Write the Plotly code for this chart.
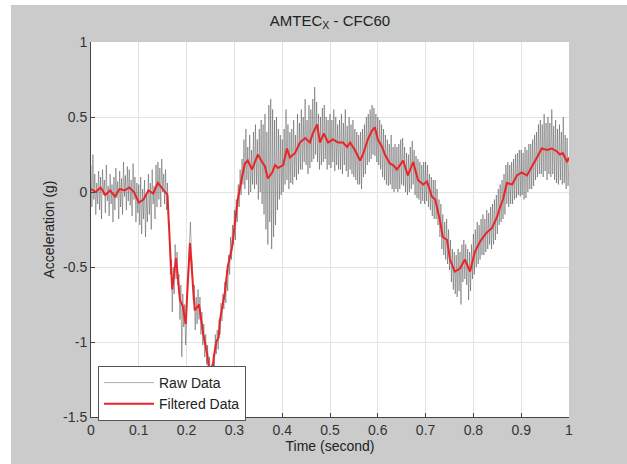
import plotly.graph_objects as go

# ---------------- data ----------------
filt_time = [0.000, 0.010, 0.020, 0.030, 0.040, 0.050, 0.060, 0.070, 0.080, 0.090,
             0.100, 0.110, 0.120, 0.130, 0.140, 0.150, 0.160, 0.165, 0.170, 0.178,
             0.186, 0.192, 0.198, 0.207, 0.217, 0.226, 0.235, 0.243, 0.248, 0.253,
             0.257, 0.262, 0.267, 0.270, 0.280, 0.286, 0.295, 0.301, 0.307, 0.316,
             0.322, 0.328, 0.337, 0.343, 0.349, 0.358, 0.364, 0.370, 0.379, 0.385,
             0.391, 0.402, 0.410, 0.416, 0.427, 0.437, 0.448, 0.458, 0.464, 0.473,
             0.479, 0.487, 0.496, 0.506, 0.517, 0.527, 0.536, 0.542, 0.552, 0.563,
             0.569, 0.579, 0.588, 0.594, 0.600, 0.609, 0.615, 0.625, 0.632, 0.640,
             0.646, 0.653, 0.663, 0.674, 0.684, 0.695, 0.703, 0.713, 0.720, 0.730,
             0.736, 0.745, 0.751, 0.761, 0.772, 0.782, 0.793, 0.803, 0.814, 0.828,
             0.839, 0.849, 0.856, 0.862, 0.870, 0.881, 0.891, 0.901, 0.912, 0.923,
             0.933, 0.943, 0.954, 0.964, 0.975, 0.981, 0.987, 0.996, 1.000]
filt_value = [0.02, 0.00, 0.03, -0.02, 0.01, -0.03, 0.02, 0.01, 0.03, 0.00,
              -0.07, -0.05, 0.01, -0.01, 0.06, 0.02, -0.02, -0.35, -0.65, -0.44,
              -0.72, -0.76, -0.88, -0.34, -0.79, -0.75, -0.95, -1.08, -1.20, -1.22,
              -1.10, -1.00, -0.97, -0.85, -0.67, -0.50, -0.37, -0.21, -0.05, 0.10,
              0.19, 0.21, 0.15, 0.20, 0.25, 0.20, 0.17, 0.09, 0.13, 0.18,
              0.16, 0.18, 0.29, 0.23, 0.26, 0.33, 0.36, 0.33, 0.39, 0.45,
              0.33, 0.39, 0.33, 0.35, 0.33, 0.33, 0.30, 0.33, 0.28, 0.21,
              0.25, 0.35, 0.41, 0.43, 0.35, 0.30, 0.25, 0.19, 0.18, 0.15,
              0.18, 0.21, 0.11, 0.20, 0.08, 0.05, 0.07, -0.03, -0.05, -0.19,
              -0.30, -0.32, -0.45, -0.53, -0.51, -0.45, -0.53, -0.40, -0.33, -0.27,
              -0.24, -0.17, -0.10, -0.05, 0.06, 0.05, 0.11, 0.13, 0.11, 0.17,
              0.23, 0.29, 0.28, 0.29, 0.27, 0.25, 0.26, 0.20, 0.23]

raw_step = 0.002
raw_value = [
    0.18, -0.10, 0.25, -0.05, 0.12, -0.15, 0.06, -0.08, 0.14, -0.12,
    0.10, -0.18, 0.15, -0.02, 0.08, -0.14, 0.18, -0.06, 0.04, -0.16,
    0.12, -0.08, 0.05, -0.20, 0.10, -0.12, 0.16, -0.04, 0.07, -0.18,
    0.14, -0.10, 0.09, -0.15, 0.20, -0.03, 0.11, -0.12, 0.17, -0.06,
    0.15, -0.09, 0.08, -0.16, 0.19, -0.05, 0.10, -0.20, 0.06, -0.14,
    0.05, -0.22, 0.10, -0.28, 0.02, -0.18, 0.08, -0.30, -0.02, -0.20,
    0.12, -0.15, 0.06, -0.25, 0.15, -0.08, 0.04, -0.18, 0.18, -0.10,
    0.20, -0.05, 0.16, -0.10, 0.22, 0.00, 0.12, -0.08, 0.15, -0.12,
    0.06, -0.22, -0.20, -0.55, -0.45, -0.80, -0.50, -0.68, -0.35, -0.58,
    -0.40, -0.62, -0.55, -0.85, -0.62, -1.10, -0.68, -0.90, -0.75, -1.02,
    -0.85, -0.55, -0.50, -0.28, -0.20, -0.40, -0.48, -0.72, -0.62, -0.92,
    -0.70, -0.88, -0.65, -0.85, -0.70, -0.95, -0.80, -1.02, -0.88, -1.10,
    -0.95, -1.15, -1.02, -1.25, -1.10, -1.32, -1.15, -1.30, -1.08, -1.18,
    -0.95, -1.08, -0.92, -1.05, -0.85, -0.95, -0.74, -0.86, -0.68, -0.78,
    -0.60, -0.74, -0.52, -0.66, -0.42, -0.55, -0.30, -0.45, -0.22, -0.35,
    -0.12, -0.32, -0.05, -0.20, 0.05, -0.10, 0.15, -0.02, 0.22, 0.05,
    0.35, 0.02, 0.42, 0.08, 0.30, -0.02, 0.38, 0.00, 0.28, 0.05,
    0.40, 0.02, 0.45, 0.05, 0.35, -0.05, 0.42, 0.00, 0.48, -0.08,
    0.45, -0.15, 0.52, -0.25, 0.40, -0.35, 0.58, -0.20, 0.62, -0.38,
    0.55, -0.30, 0.48, -0.22, 0.50, -0.12, 0.42, -0.05, 0.38, -0.02,
    0.35, 0.00, 0.42, 0.05, 0.55, 0.08, 0.45, 0.02, 0.40, 0.06,
    0.42, 0.05, 0.48, 0.10, 0.38, 0.08, 0.52, 0.12, 0.46, 0.15,
    0.55, 0.15, 0.50, 0.20, 0.62, 0.18, 0.48, 0.12, 0.58, 0.16,
    0.55, 0.20, 0.62, 0.22, 0.70, 0.25, 0.60, 0.20, 0.52, 0.15,
    0.50, 0.18, 0.56, 0.20, 0.58, 0.22, 0.50, 0.15, 0.48, 0.18,
    0.52, 0.16, 0.48, 0.20, 0.55, 0.14, 0.50, 0.18, 0.45, 0.15,
    0.48, 0.15, 0.52, 0.12, 0.46, 0.18, 0.55, 0.14, 0.44, 0.10,
    0.50, 0.15, 0.45, 0.12, 0.48, 0.10, 0.42, 0.08, 0.40, 0.05,
    0.38, 0.05, 0.40, 0.02, 0.42, 0.10, 0.45, 0.12, 0.50, 0.18,
    0.52, 0.20, 0.55, 0.22, 0.58, 0.25, 0.56, 0.24, 0.52, 0.20,
    0.50, 0.18, 0.48, 0.15, 0.45, 0.10, 0.42, 0.08, 0.38, 0.05,
    0.35, 0.04, 0.32, 0.05, 0.38, 0.02, 0.30, 0.00, 0.32, 0.02,
    0.30, 0.00, 0.32, 0.02, 0.35, 0.05, 0.36, 0.04, 0.30, 0.00,
    0.26, -0.02, 0.25, 0.00, 0.30, 0.02, 0.34, 0.05, 0.28, -0.02,
    0.24, -0.04, 0.22, -0.05, 0.20, -0.08, 0.18, -0.06, 0.20, -0.08,
    0.20, -0.06, 0.18, -0.10, 0.12, -0.12, 0.10, -0.16, 0.08, -0.18,
    0.08, -0.18, 0.02, -0.22, -0.05, -0.30, -0.08, -0.38, -0.15, -0.42,
    -0.20, -0.45, -0.18, -0.48, -0.25, -0.52, -0.32, -0.60, -0.38, -0.65,
    -0.40, -0.68, -0.42, -0.70, -0.38, -0.66, -0.40, -0.75, -0.35, -0.60,
    -0.32, -0.58, -0.35, -0.62, -0.38, -0.72, -0.40, -0.66, -0.35, -0.58,
    -0.28, -0.55, -0.25, -0.50, -0.20, -0.48, -0.22, -0.45, -0.18, -0.42,
    -0.15, -0.42, -0.18, -0.40, -0.12, -0.38, -0.14, -0.35, -0.10, -0.38,
    -0.08, -0.35, -0.05, -0.32, -0.02, -0.28, 0.02, -0.22, 0.05, -0.20,
    0.08, -0.18, 0.12, -0.15, 0.18, -0.08, 0.20, -0.10, 0.18, -0.08,
    0.20, -0.08, 0.22, -0.05, 0.25, -0.04, 0.26, -0.02, 0.28, -0.03,
    0.28, -0.02, 0.26, -0.05, 0.30, -0.04, 0.28, 0.00, 0.32, 0.02,
    0.32, 0.02, 0.35, 0.04, 0.38, 0.08, 0.40, 0.10, 0.45, 0.12,
    0.48, 0.12, 0.45, 0.10, 0.52, 0.14, 0.46, 0.08, 0.50, 0.12,
    0.46, 0.10, 0.55, 0.12, 0.44, 0.08, 0.48, 0.06, 0.42, 0.05,
    0.45, 0.08, 0.40, 0.05, 0.50, 0.06, 0.38, 0.02, 0.36, 0.04,
    0.22]
raw_time = [round(i * raw_step, 4) for i in range(len(raw_value))]

x_ticks = [0, 0.1, 0.2, 0.3, 0.4, 0.5, 0.6, 0.7, 0.8, 0.9, 1]
x_tick_text = ["0", "0.1", "0.2", "0.3", "0.4", "0.5", "0.6", "0.7", "0.8", "0.9", "1"]
y_ticks = [-1.5, -1, -0.5, 0, 0.5, 1]
y_tick_text = ["-1.5", "-1", "-0.5", "0", "0.5", "1"]

# ---------------- figure ----------------
FONT = "Liberation Sans, Arial, sans-serif"
FS = 14
W, H = 627, 464
L, R, T, B = 91, 58, 42, 47
pw, ph = W - L - R, H - T - B

fig = go.Figure()
fig.add_trace(go.Scatter(x=raw_time, y=raw_value, mode="lines", name="Raw Data",
                         line=dict(color="rgba(35,35,35,0.62)", width=0.6)))
fig.add_trace(go.Scatter(x=filt_time, y=filt_value, mode="lines", name="Filtered Data",
                         line=dict(color="#e8262a", width=2)))

# grey figure background (leaves small white margin at top/left)
fig.add_shape(type="rect", xref="paper", yref="paper", layer="below",
              x0=(11 - L) / pw, x1=(W + 5 - L) / pw,
              y0=-(B + 5) / ph, y1=(T - 5 + ph) / ph,
              fillcolor="#cbcbcb", line=dict(width=0))
fig.add_shape(type="rect", xref="paper", yref="paper", layer="below",
              x0=0, x1=1, y0=0, y1=1, fillcolor="white", line=dict(width=0))

axis_common = dict(showgrid=True, gridcolor="#e3e3e3", gridwidth=1, zeroline=False,
                   showline=True, linecolor="#444", linewidth=1, mirror=False,
                   ticks="inside", ticklen=4, tickcolor="#444",
                   tickfont=dict(family=FONT, size=FS, color="#333"))

fig.update_layout(
    width=W, height=H,
    margin=dict(l=L, r=R, t=T, b=B),
    paper_bgcolor="white", plot_bgcolor="rgba(0,0,0,0)",
    font=dict(family=FONT, size=FS, color="#222"),
    title=dict(text="AMTEC<sub>X</sub> - CFC60", x=0.5, xref="paper",
               y=1 - 21 / H, yref="container", yanchor="middle",
               font=dict(family=FONT, size=15, color="#222")),
    xaxis=dict(range=[0, 1], tickvals=x_ticks, ticktext=x_tick_text,
               title=dict(text="Time (second)", standoff=3,
                          font=dict(family=FONT, size=FS, color="#222")),
               **axis_common),
    yaxis=dict(range=[-1.5, 1], tickvals=y_ticks, ticktext=y_tick_text,
               title=dict(text="Acceleration (g)", standoff=5,
                          font=dict(family=FONT, size=FS, color="#222")),
               **axis_common),
    legend=dict(x=7 / pw, y=51 / ph, xanchor="left", yanchor="top",
                bgcolor="white", bordercolor="#555", borderwidth=1,
                font=dict(family=FONT, size=FS, color="#222"),
                tracegroupgap=0, itemwidth=50),
    showlegend=True,
)

fig.write_html("out.html", config={"displayModeBar": False},
               post_script="document.body.style.margin='0';document.body.style.padding='0';")
